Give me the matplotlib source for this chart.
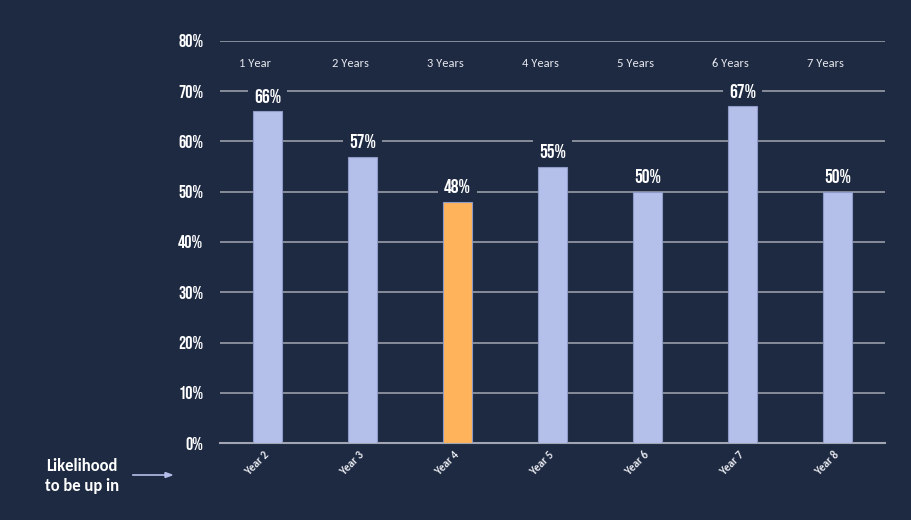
import matplotlib.pyplot as plt

# chance of being up after holding N years
years = ["Year 2", "Year 3", "Year 4", "Year 5", "Year 6", "Year 7", "Year 8"]
horizons = ["1 Year", "2 Years", "3 Years", "4 Years", "5 Years", "6 Years", "7 Years"]
likelihood = [66, 57, 48, 55, 50, 67, 50]
highlight = "Year 4"

bg = "#1e2a42"
bar_col = "#b4c0ea"
hi_col = "#ffb35a"
grid_col = "#a2a6b2"
txt_col = "#e6e8ee"
num_font = ["Bebas Neue", "DejaVu Sans"]
body_font = ["Carlito", "Open Sans", "DejaVu Sans"]

fig = plt.figure(figsize=(9.12, 5.2), dpi=100, facecolor=bg)
ax = fig.add_axes([220 / 912, 1 - 443 / 520, 665 / 912, 402 / 520])
ax.set_facecolor(bg)

x = list(range(len(years)))
colors = [hi_col if y == highlight else bar_col for y in years]
ax.bar(x, likelihood, width=0.31, color=colors, edgecolor="#8e9bc6", linewidth=0.8, zorder=3)

ax.set_xlim(-0.5, len(years) - 0.5)
ax.set_ylim(0, 80)
ax.set_yticks(range(0, 81, 10))
ax.set_yticklabels([f"{v}%" for v in range(0, 81, 10)], family=num_font,
                   fontsize=13, color="white")
ax.yaxis.grid(True, color=grid_col, linewidth=1.1, zorder=0)
ax.tick_params(axis="y", length=0, pad=12)
ax.tick_params(axis="x", length=0, pad=7)
ax.set_xticks(x)
ax.set_xticklabels(years, rotation=45, ha="right", va="center", rotation_mode="anchor",
                   fontsize=8, color=txt_col, fontweight="bold", family=body_font)
for s in ["top", "right", "left"]:
    ax.spines[s].set_visible(False)
ax.spines["bottom"].set_color(grid_col)
ax.spines["bottom"].set_linewidth(1.5)

# value labels sitting on a background box so the gridlines break around them
for xi, v in zip(x, likelihood):
    ax.annotate(f"{v}%", (xi, v), xytext=(0, 6), textcoords="offset points",
                ha="center", va="bottom", family=num_font,
                fontsize=14, color="white", zorder=4,
                bbox=dict(boxstyle="square,pad=0.3", fc=bg, ec="none"))

# holding period labels along the top
for xi, h in zip(x, horizons):
    ax.text(xi - 0.13, 75.5, h, ha="center", va="center", fontsize=9,
            color=txt_col, family=body_font, zorder=4)

fig.text(82 / 912, 1 - 476 / 520, "Likelihood\nto be up in", ha="center", va="center",
         fontsize=12, fontweight="bold", color="white", linespacing=1.25, family=body_font)
fig.add_artist(plt.Line2D([133 / 912, 165 / 912], [1 - 475 / 520] * 2, color=bar_col, lw=1.2))
fig.patches.append(plt.Polygon([[165 / 912, 1 - 472.5 / 520], [172 / 912, 1 - 475 / 520],
                                [165 / 912, 1 - 477.5 / 520]], closed=True,
                               color=bar_col, transform=fig.transFigure, figure=fig))

fig.savefig("out.png", facecolor=bg)
